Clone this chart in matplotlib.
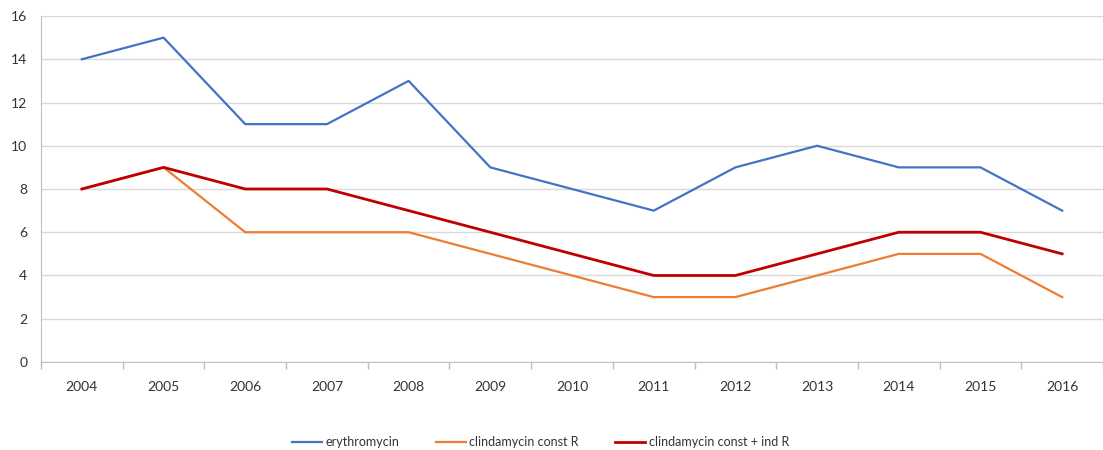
import matplotlib
matplotlib.use("Agg")
import matplotlib.pyplot as plt

years = ["2004", "2005", "2006", "2007", "2008", "2009", "2010",
         "2011", "2012", "2013", "2014", "2015", "2016"]
erythromycin = [14, 15, 11, 11, 13, 9, 8, 7, 9, 10, 9, 9, 7]
clinda_const = [8, 9, 6, 6, 6, 5, 4, 3, 3, 4, 5, 5, 3]
clinda_const_ind = [8, 9, 8, 8, 7, 6, 5, 4, 4, 5, 6, 6, 5]
yticks = [0, 2, 4, 6, 8, 10, 12, 14, 16]

plt.rcParams['font.family'] = ['Lato', 'DejaVu Sans']

fig = plt.figure(figsize=(11.03, 4.5), dpi=100)
ax = fig.add_axes([0.0372, 0.1956, 0.9628, 0.7688])

x = list(range(len(years)))
l1, = ax.plot(x, erythromycin, color="#4472C4", lw=1.6, label="erythromycin")
l2, = ax.plot(x, clinda_const, color="#ED7D31", lw=1.6, label="clindamycin const R")
l3, = ax.plot(x, clinda_const_ind, color="#C00000", lw=2.0, label="clindamycin const + ind R")

ax.set_xlim(-0.5, len(years) - 0.5)
ax.set_ylim(0, 16)
ax.set_yticks(yticks)
ax.set_yticklabels([str(v) for v in yticks], fontsize=10, color="#333333")
ax.yaxis.grid(True, color="#D9D9D9", lw=1)
ax.set_axisbelow(True)
ax.tick_params(axis="y", length=0, pad=10)

ax.set_xticks([i for i in x])
ax.set_xticklabels(years, fontsize=10, color="#333333")
ax.tick_params(axis="x", length=0, pad=14)
ax.set_xticks([i - 0.5 for i in range(len(years) + 1)], minor=True)
ax.tick_params(axis="x", which="minor", length=5, color="#BFBFBF", width=1)

for s in ["top", "right"]:
    ax.spines[s].set_visible(False)
ax.spines["left"].set_color("#BFBFBF")
ax.spines["bottom"].set_color("#BFBFBF")

fig.legend(handles=[l1, l2, l3], loc="center", bbox_to_anchor=(0.49, 0.0178),
           ncol=3, frameon=False, fontsize=9, handlelength=2.4,
           handletextpad=0.3, columnspacing=2.9, labelcolor="#333333")

fig.savefig("out.png", dpi=100)
